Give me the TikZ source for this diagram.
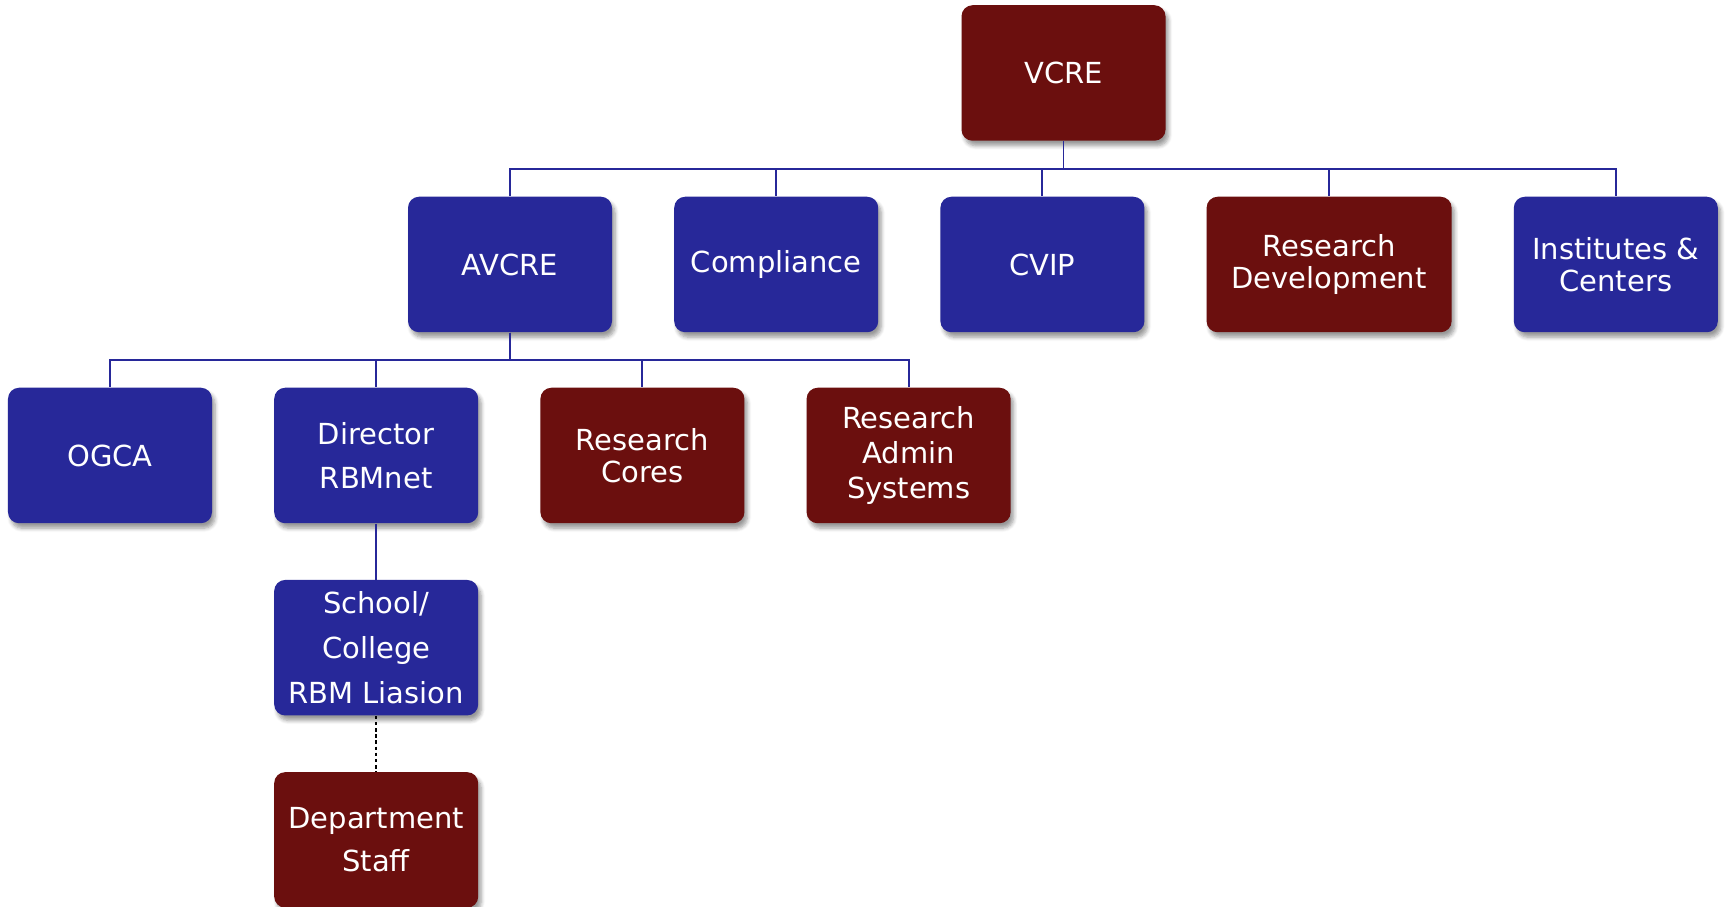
\documentclass[tikz,border=0pt]{standalone}
\usepackage{fontspec}
\setmainfont{DejaVu Sans}
\usepackage{tikz}
\usetikzlibrary{positioning,shadows.blur}
\definecolor{navy}{RGB}{39,40,153}
\definecolor{maroon}{RGB}{107,15,14}
\tikzset{
  unit/.style={rounded corners=2.2mm, minimum width=4.08cm, minimum height=2.71cm, align=center, text=white, inner sep=2pt,
    font=\fontsize{16.5}{25}\selectfont,
    blur shadow={shadow xshift=0.6mm, shadow yshift=-1mm, shadow blur steps=6, shadow opacity=40}},
  blueunit/.style={unit, fill=navy},
  redunit/.style={unit, fill=maroon},
  link/.style={draw=navy, line width=1.1pt},
  dotlink/.style={draw=black, line width=1pt, dash pattern=on 2pt off 1.5pt}
}
\begin{document}
\begin{tikzpicture}[node distance=1.12cm and 1.23cm]
    \useasboundingbox (0,0) rectangle (34.54,-18.14);
    \node[redunit] (vcre) at (21.27,-1.46) {VCRE};

    \node[blueunit] (avcre) at (10.20,-5.29) {AVCRE};
    \node[blueunit, right=of avcre] (compl) {Compliance};
    \node[blueunit, right=of compl] (cvip) {CVIP};
    \node[redunit, right=of cvip, minimum width=4.9cm, font=\fontsize{16.5}{18.5}\selectfont] (resdev) {Research\\ Development};
    \node[blueunit, right=of resdev, font=\fontsize{16.5}{18.5}\selectfont] (inst) {Institutes \&\\ Centers};

    \node[blueunit] (ogca) at (2.20,-9.11) {OGCA};
    \node[blueunit, right=of ogca] (dir) {Director\\ RBMnet};
    \node[redunit, right=of dir, font=\fontsize{16.5}{18.5}\selectfont] (cores) {Research\\ Cores};
    \node[redunit, right=of cores, font=\fontsize{16.5}{20}\selectfont] (admin) {Research\\ Admin\\ Systems};

    \node[blueunit, below=of dir, font=\fontsize{16.5}{25.6}\selectfont] (school) {School/\\ College\\ RBM Liasion};
    \node[redunit, below=of school, font=\fontsize{16.5}{24.5}\selectfont] (dept) {Department\\ Staff};

    \draw[link] (vcre.south) -- ++(0,-5.5mm) -| (avcre.north);
    \draw[link] (vcre.south) -- ++(0,-5.5mm) -| (compl.north);
    \draw[link] (vcre.south) -- ++(0,-5.5mm) -| (cvip.north);
    \draw[link] (vcre.south) -- ++(0,-5.5mm) -| (resdev.north);
    \draw[link] (vcre.south) -- ++(0,-5.5mm) -| (inst.north);

    \draw[link] (avcre.south) -- ++(0,-5.5mm) -| (ogca.north);
    \draw[link] (avcre.south) -- ++(0,-5.5mm) -| (dir.north);
    \draw[link] (avcre.south) -- ++(0,-5.5mm) -| (cores.north);
    \draw[link] (avcre.south) -- ++(0,-5.5mm) -| (admin.north);

    \draw[link] (dir.south) -- (school.north);
    \draw[dotlink] (school.south) -- (dept.north);
  \end{tikzpicture}
\end{document}
